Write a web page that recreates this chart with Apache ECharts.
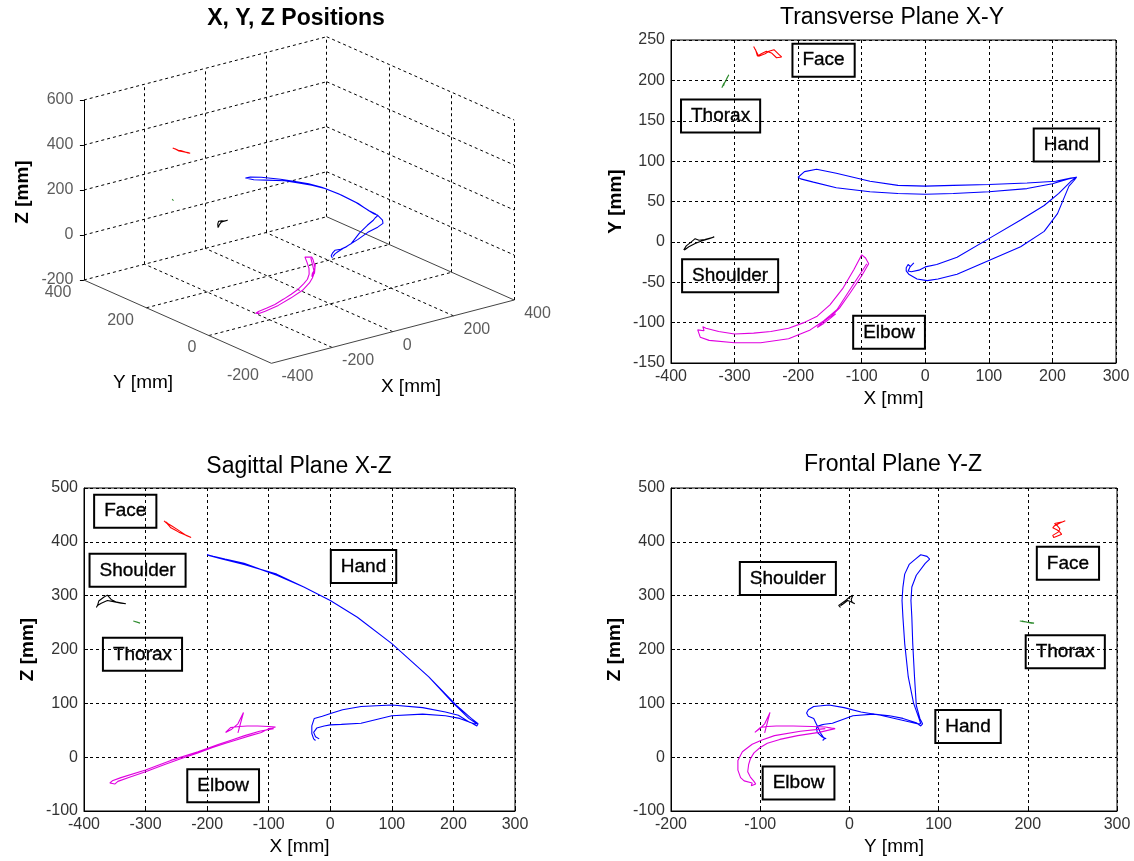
<!DOCTYPE html>
<html>
<head>
<meta charset="utf-8">
<script src="https://cdn.jsdelivr.net/npm/echarts@6/dist/echarts.min.js"></script>
<style>html,body{margin:0;padding:0;background:#fff}#c{width:1134px;height:861px}</style>
</head>
<body>
<div id="c"></div>
<script>
// ---------------- DATA (mm) ----------------
const handX = [-18,-24,-27,-22,-10,0,18,50,100,150,187,210,229,238, 240,229,205,160,100,44,0,-43,-87,-140,-171,-190,-200, -196,-176,-140,-87,-43,0,44,100,160,200,225,238, 234,226,208,187,150,100,50,20,3,-13,-26,-30,-30,-27,-24];
const handY = [-26,-31,-36,-37,-35,-31,-28,-19,4,27,45,60,75,80, 82,79,75,73,71,70,69,70,75,85,90,87,80, 78,74,67,62,60,59,60,62,66,72,78,80, 76,69,35,13,-6,-23,-40,-46,-48,-46,-40,-36,-32,-28,-30];
const handZ = [34,38,46,54,58,60,61,63,77,80,77,72,64,58, 62,72,96,149,211,260,291,316,338,360,368,373,376, 374,368,358,340,316,291,260,211,149,100,72,62, 62,65,78,84,92,97,94,88,82,76,72,58,44,34,31];

const elbowX = [-150,-141,-150,-160,-170,-162,-148,-135,-118,-100,-89,-94,-100,-112,-130,-150,-170,-191,-215,-243,-270,-300,-325,-345,-350,-348,-358,-354,-340,-300,-259,-215,-181,-160,-139,-115,-92];
const elbowY = [-95,-89,-95,-101,-106,-100,-92,-82,-63,-42,-27,-20,-16,-34,-58,-78,-92,-100,-107,-111,-113,-114,-111,-107,-105,-110,-109,-118,-122,-125,-125,-120,-109,-98,-84,-55,-27];
const elbowZ = [45,83,62,52,46,55,57,58,58,57,56,54,53,46,40,33,26,18,8,-3,-14,-27,-37,-45,-50,-53,-48,-44,-38,-24,-6,10,24,32,40,48,53];

const shoulderX = [-380,-378,-376,-368,-362,-356,-347,-332,-340,-352,-362,-372,-379,-375];
const shoulderY = [-10,-12,-5,0,4,2,3,6,4,1,-2,-6,-10,-8];
const shoulderZ = [278,282,290,297,301,293,288,285,286,289,291,286,281,284];

const thoraxX = [-320,-317,-314,-312,-309,-311,-315,-318,-316];
const thoraxY = [191,196,199,203,207,204,198,193,195];
const thoraxZ = [253,252,251,250,249,249,251,252,253];

const faceX = [-270,-266,-262,-259,-252,-246,-238,-230,-226,-234,-242,-250,-258,-264,-267];
const faceY = [242,236,230,228,233,236,238,232,229,228,234,236,233,230,238];
const faceZ = [439,435,430,426,422,418,414,410,408,412,418,424,430,434,437];

// tick labels
const ticks3X = [-400,-200,0,200,400];
const ticks3Y = [-200,0,200,400];
const ticks3Z = [-200,0,200,400,600];

// annotation texts
const notesXY = [['Face',-160,225],['Thorax',-322,156],['Hand',222,120],['Shoulder',-307,-42],['Elbow',-57,-112]];
const notesXZ = [['Face',-333,457],['Shoulder',-313,347],['Thorax',-305,191],['Hand',54,354],['Elbow',-174,-53]];
const notesYZ = [['Shoulder',-69,332],['Face',245,360],['Thorax',242,196],['Hand',133,57],['Elbow',-57,-48]];

// ---------------- LAYOUT / STYLE ----------------
const FONT = '"Liberation Sans", Arial, Helvetica, sans-serif';
const segs = [
  {name:'Hand', color:'#0000ff', x:handX, y:handY, z:handZ},
  {name:'Elbow', color:'#e000e0', x:elbowX, y:elbowY, z:elbowZ},
  {name:'Shoulder', color:'#000000', x:shoulderX, y:shoulderY, z:shoulderZ},
  {name:'Thorax', color:'#2e8b2e', x:thoraxX, y:thoraxY, z:thoraxZ},
  {name:'Face', color:'#ff0000', x:faceX, y:faceY, z:faceZ}
];

// orthographic view of the 3D box (page pixels of the 3D sub-grid)
const V = {ox:271.4, oy:363.3, x0:-400, y0:-200, z0:-200,
  ex:[0.3035,-0.0791], ey:[-0.3125,-0.1388], ez:[0,-0.225]};
function proj(x,y,z){
  const dx=x-V.x0, dy=y-V.y0, dz=z-V.z0;
  return [V.ox+dx*V.ex[0]+dy*V.ey[0]+dz*V.ez[0], V.oy+dx*V.ex[1]+dy*V.ey[1]+dz*V.ez[1]];
}
function seg3(a,b){ return {coords:[proj(a[0],a[1],a[2]), proj(b[0],b[1],b[2])]}; }

const xMin3=ticks3X[0], xMax3=ticks3X[ticks3X.length-1];
const yMin3=ticks3Y[0], yMax3=ticks3Y[ticks3Y.length-1];
const zMin3=ticks3Z[0], zMax3=ticks3Z[ticks3Z.length-1];

const dashed3=[];
ticks3X.forEach(x=>{ if(x>xMin3) dashed3.push(seg3([x,yMax3,zMin3],[x,yMax3,zMax3])); });
ticks3Z.forEach(z=>{ dashed3.push(seg3([xMin3,yMax3,z],[xMax3,yMax3,z])); });
ticks3Y.forEach(y=>{ if(y<yMax3) dashed3.push(seg3([xMax3,y,zMin3],[xMax3,y,zMax3])); });
ticks3Z.forEach(z=>{ if(z>zMin3) dashed3.push(seg3([xMax3,yMax3,z],[xMax3,yMin3,z])); });
ticks3Y.forEach(y=>{ if(y>yMin3 && y<yMax3) dashed3.push(seg3([xMin3,y,zMin3],[xMax3,y,zMin3])); });
ticks3X.forEach(x=>{ if(x>xMin3 && x<xMax3) dashed3.push(seg3([x,yMin3,zMin3],[x,yMax3,zMin3])); });

const grayAxes3 = [
  seg3([xMin3,yMax3,zMin3],[xMin3,yMin3,zMin3]),
  seg3([xMin3,yMin3,zMin3],[xMax3,yMin3,zMin3]),
  seg3([xMax3,yMax3,zMin3],[xMax3,yMin3,zMin3])
];
const zAxis3 = [seg3([xMin3,yMax3,zMin3],[xMin3,yMax3,zMax3])];
ticks3Z.forEach(z=>{ const p=proj(xMin3,yMax3,z); zAxis3.push({coords:[p,[p[0]-4,p[1]]]}); });

const series=[];
series.push({type:'lines', coordinateSystem:'cartesian2d', xAxisIndex:0, yAxisIndex:0, silent:true,
  lineStyle:{color:'#000', width:1, type:[3,3], opacity:1}, data:dashed3});
series.push({type:'lines', coordinateSystem:'cartesian2d', xAxisIndex:0, yAxisIndex:0, silent:true,
  lineStyle:{color:'#444', width:1, type:'solid', opacity:1}, data:grayAxes3});
series.push({type:'lines', coordinateSystem:'cartesian2d', xAxisIndex:0, yAxisIndex:0, silent:true,
  lineStyle:{color:'#000', width:1, type:'solid', opacity:1}, data:zAxis3});

const tickLabelStyle = {fontSize:16, color:'#333', fontFamily:FONT};
function labelSeries(items, align, offset){
  return {type:'scatter', xAxisIndex:0, yAxisIndex:0, symbolSize:1, silent:true,
    itemStyle:{color:'rgba(0,0,0,0)'},
    label:Object.assign({show:true, position:'inside', align:align, verticalAlign:'middle', offset:offset, formatter:'{b}'}, tickLabelStyle),
    data:items};
}
series.push(labelSeries(ticks3Z.map(z=>({value:proj(xMin3,yMax3,z), name:String(z)})), 'right', [-10.5,0]));
series.push(labelSeries(ticks3Y.map(y=>({value:proj(xMin3,y,zMin3), name:String(y)})), 'right', [-12.5,12.5]));
series.push(labelSeries(ticks3X.map(x=>({value:proj(x,yMin3,zMin3), name:String(x)})), 'left', [10,13.5]));

segs.forEach(s=>{
  series.push({type:'line', xAxisIndex:0, yAxisIndex:0, showSymbol:false, symbol:'none', silent:true,
    lineStyle:{color:s.color, width:1.1}, data:s.x.map((v,i)=>proj(v,s.y[i],s.z[i]))});
});

// 2D panels
const panels = [
  {gi:1, a:'x', b:'y', notes:notesXY},
  {gi:2, a:'x', b:'z', notes:notesXZ},
  {gi:3, a:'y', b:'z', notes:notesYZ}
];
panels.forEach(p=>{
  segs.forEach(s=>{
    series.push({type:'line', xAxisIndex:p.gi, yAxisIndex:p.gi, showSymbol:false, symbol:'none', silent:true,
      lineStyle:{color:s.color, width:1.1}, data:s[p.a].map((v,i)=>[v, s[p.b][i]])});
  });
  series.push({type:'scatter', xAxisIndex:p.gi, yAxisIndex:p.gi, symbolSize:1, silent:true,
    itemStyle:{color:'rgba(0,0,0,0)', opacity:1},
    label:{show:true, position:'inside', formatter:'{b}', fontSize:19, color:'#000', opacity:1, fontFamily:FONT,
      textBorderColor:'#000', textBorderWidth:0.35, lineHeight:20, padding:[7,10,6,10],
      borderColor:'#000', borderWidth:1, backgroundColor:'transparent'},
    data:p.notes.map(n=>({value:[n[1],n[2]], name:n[0]}))});
});

const grids = [
  {left:0, top:0, width:560, height:420, show:false, outerBoundsMode:'none', containLabel:false},
  {left:671, top:40, width:445, height:323},
  {left:84, top:488, width:431, height:323},
  {left:671, top:488, width:446, height:323}
].map((g,i)=> i===0 ? g : Object.assign({show:true, borderColor:'#000', borderWidth:1, backgroundColor:'transparent', outerBoundsMode:'none', containLabel:false}, g));

function valAxis(gi, min, max, interval, name, gap, vertical){
  return {type:'value', gridIndex:gi, min:min, max:max, interval:interval,
    name:name, nameLocation:'middle', nameGap:gap,
    nameTextStyle:{fontSize:19, color:'#000', fontFamily:FONT, fontWeight: vertical?'bold':'normal'},
    axisLine:{show:true, onZero:false, lineStyle:{color:'#000', width:1}},
    axisTick:{show:true, inside:true, length:4, lineStyle:{color:'#000'}},
    axisLabel:{show:true, margin:6, fontSize:16, color:'#333', fontFamily:FONT, showMinLabel:true, showMaxLabel:true, hideOverlap:false},
    splitLine:{show:true, lineStyle:{color:'#000', width:1, type:[3,3]}}};
}
const xAxes = [
  {type:'value', gridIndex:0, min:0, max:560, show:false},
  valAxis(1,-400,300,100,'X [mm]',26,false),
  valAxis(2,-400,300,100,'X [mm]',26,false),
  valAxis(3,-200,300,100,'Y [mm]',26,false)
];
const yAxes = [
  {type:'value', gridIndex:0, min:0, max:420, inverse:true, show:false},
  valAxis(1,-150,250,50,'Y [mm]',46,true),
  valAxis(2,-100,500,100,'Z [mm]',47,true),
  valAxis(3,-100,500,100,'Z [mm]',47,true)
];

function txt(x,y,text,size,weight,rot){
  return {type:'text', x:x, y:y, rotation:rot||0, silent:true,
    style:{text:text, fill:'#000', fontSize:size, fontWeight:weight, fontFamily:FONT, align:'center', verticalAlign:'middle'}};
}
const graphic = [
  txt(296,19,'X, Y, Z Positions',23,'bold'),
  txt(892,18,'Transverse Plane X-Y',23,'normal'),
  txt(299,467,'Sagittal Plane X-Z',23,'normal'),
  txt(893,465,'Frontal Plane Y-Z',23,'normal'),
  txt(23,192,'Z [mm]',19,'bold',Math.PI/2),
  txt(143,383,'Y [mm]',19,'normal'),
  txt(411,387,'X [mm]',19,'normal')
];

const chart = echarts.init(document.getElementById('c'), null, {renderer:'canvas'});
chart.setOption({
  animation:false,
  backgroundColor:'#fff',
  textStyle:{fontFamily:FONT},
  grid:grids, xAxis:xAxes, yAxis:yAxes,
  series:series,
  graphic:graphic
});
</script>
</body>
</html>
